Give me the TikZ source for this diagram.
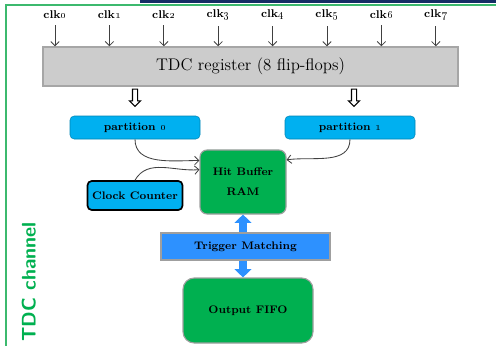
\documentclass[tikz,border=0pt]{standalone}
\usetikzlibrary{arrows.meta,shapes.arrows,calc}

\definecolor{hwgreen}{RGB}{0,176,80}
\definecolor{partblue}{RGB}{0,176,240}
\definecolor{trigblue}{RGB}{45,145,255}
\definecolor{reggray}{RGB}{204,204,204}
\definecolor{framegreen}{RGB}{60,185,110}
\definecolor{barnavy}{RGB}{20,45,100}

\tikzset{
  lbl/.style={font=\fontsize{7.8}{9}\selectfont\bfseries},
  partbox/.style={draw=partblue!75!black, fill=partblue, rounded corners=3pt,
    minimum width=3.25cm, minimum height=0.575cm, lbl},
  hwbox/.style={draw=gray!75, thick, fill=hwgreen, rounded corners=5pt, lbl, align=center},
  hollow/.style={single arrow, draw, thick, fill=white, shape border rotate=270,
    minimum height=0.43cm, inner sep=0.05cm, single arrow head extend=0.075cm},
  feed/.style={draw=black!75, semithick, -{Straight Barb[length=3pt,width=6pt]}},
}

\begin{document}
\begin{tikzpicture}
    \useasboundingbox (0,0) rectangle (12.4,8.65);
    %% Frame
    \fill[barnavy] (3.5,8.575) rectangle (12.4,8.65);
    \draw[framegreen, line width=1pt] (12.4,8.525) -- (0.15,8.525) -- (0.15,0);
    %% Register and clocks
    \node[draw=gray!70, line width=1pt, fill=reggray, minimum width=10.375cm, minimum height=0.975cm,
      font=\fontsize{12}{14}\selectfont] (reg) at (6.2625,6.9875) {TDC register (8 flip-flops)};
    \foreach \i in {0,...,7}{
        \node[font=\fontsize{8}{9}\selectfont\bfseries] (clk\i) at ({1.375+1.36*\i},8.275) {clk\oldstylenums{\i}};
        \draw[feed, shorten <=1pt] (clk\i.south) -- (clk\i.south |- reg.north);
    }
    \node[hollow] (dn0) at (3.375,6.2375) {};
    \node[hollow] (dn1) at (8.85,6.2375) {};
    %% Partitions
    \node[partbox] (p0) at (3.375,5.4625) {partition \oldstylenums{0}};
    \node[partbox] (p1) at (8.75,5.4625) {partition \oldstylenums{1}};
    %% Buffer, counter, output
    \node[hwbox, minimum width=2.15cm, minimum height=1.6cm] (hit) at (6.075,4.1) {Hit Buffer\\[5pt]RAM};
    \node[draw=black, line width=1.2pt, fill=partblue, rounded corners=3pt, minimum width=2.15cm,
      minimum height=0.725cm, lbl] (cc) at (3.375,3.7625) {Clock Counter};
    \node[hwbox, rounded corners=8pt, minimum width=3.25cm, minimum height=1.625cm] (fifo) at (6.2,0.8875) {Output FIFO};
    \draw[trigblue, line width=5pt, {Triangle[length=6pt,width=12pt]}-{Triangle[length=6pt,width=12pt]}]
        (hit.south) -- (hit.south |- fifo.north);
    \node[draw=gray!75, thick, fill=trigblue, minimum width=4.225cm, minimum height=0.675cm, lbl] (trig)
        at (6.1375,2.4875) {Trigger Matching};
    %% Feeds into the buffer
    \draw[feed] (p0.south) to[out=-90,in=180] ($(hit.north west)!0.17!(hit.south west)$);
    \draw[feed] (cc.north) to[out=60,in=185] ($(hit.north west)!0.31!(hit.south west)$);
    \draw[feed] (p1.south) to[out=-90,in=8] ($(hit.north east)!0.16!(hit.south east)$);
    %% Side title
    \node[rotate=90, text=hwgreen, font=\fontsize{14}{16}\selectfont\sffamily\bfseries] (chan) at (0.72,1.6) {TDC channel};
\end{tikzpicture}
\end{document}
